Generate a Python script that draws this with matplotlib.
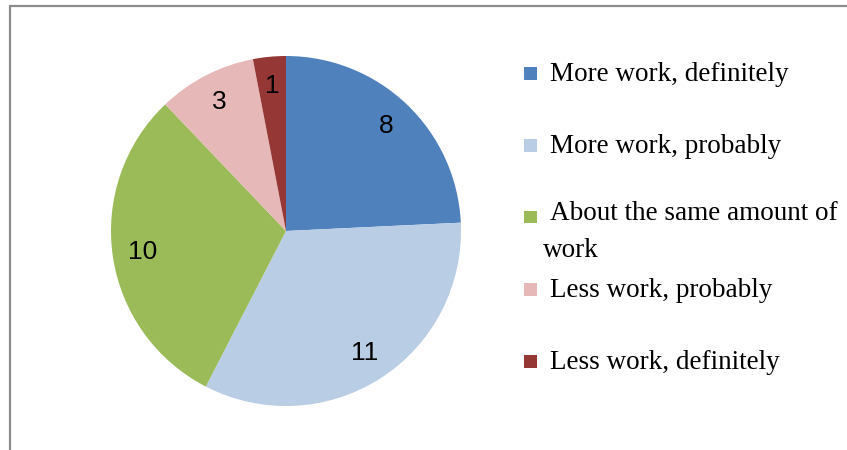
import matplotlib
matplotlib.use('Agg')
import matplotlib.pyplot as plt
from matplotlib.patches import Rectangle

# chart data
labels = ['More work, definitely', 'More work, probably',
          'About the same amount of\nwork', 'Less work, probably',
          'Less work, definitely']
counts = [8, 11, 10, 3, 1]
colors = ['#4F81BD', '#B9CDE5', '#9BBB59', '#E6B9B8', '#953735']

W, H = 847, 450
fig = plt.figure(figsize=(W / 100, H / 100), dpi=100)
fig.patch.set_facecolor('white')

# outer frame (only left and top edges visible in the reference)
fig.add_artist(Rectangle((10 / W, -0.1), 1.2, (H - 6) / H + 0.1,
                         transform=fig.transFigure, fill=False,
                         edgecolor='#8c8c8c', linewidth=1.6))

# pie axes: centre (286, 231) px, radius 175 px
cx, cy, r = 286, 231, 175
ax = fig.add_axes([(cx - r) / W, (H - cy - r) / H, 2 * r / W, 2 * r / H])
total = sum(counts)
wedges, _, autotexts = ax.pie(
    counts, colors=colors, startangle=90, counterclock=False,
    autopct=lambda p: '%d' % round(p * total / 100), pctdistance=0.83,
    wedgeprops=dict(linewidth=0),
    textprops=dict(family='Liberation Sans', fontsize=19, color='black'))
ax.set_xlim(-1, 1)
ax.set_ylim(-1, 1)
ax.set_aspect('equal')
ax.axis('off')

# legend drawn by hand so that rows keep Excel's even spacing
for i, (lab, col) in enumerate(zip(labels, colors)):
    yc = 73 + 72 * i
    fig.add_artist(Rectangle((524 / W, 1 - (yc + 6.5) / H), 13 / W, 13 / H,
                             transform=fig.transFigure, facecolor=col,
                             edgecolor='none'))
    lines = lab.split('\n')
    base = yc + 8 - (5 if len(lines) > 1 else 0)
    for j, line in enumerate(lines):
        fig.text((550 if j == 0 else 543) / W, 1 - (base + 37 * j) / H, line,
                 family='Liberation Serif', fontsize=19.5,
                 va='baseline', ha='left')

fig.savefig('out.png', dpi=100)
